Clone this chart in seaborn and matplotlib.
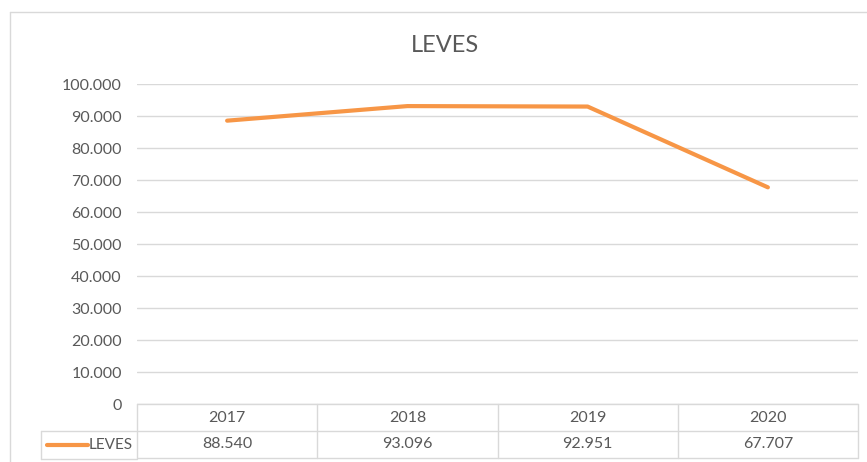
import matplotlib
matplotlib.use('Agg')
import matplotlib.pyplot as plt
import matplotlib.transforms as mtransforms
import seaborn as sns
import pandas as pd

# data
years = ['2017', '2018', '2019', '2020']
leves = [88540, 93096, 92951, 67707]
leves_labels = ['88.540', '93.096', '92.951', '67.707']
yticks = [0, 10000, 20000, 30000, 40000, 50000, 60000, 70000, 80000, 90000, 100000]
ytick_labels = ['0', '10.000', '20.000', '30.000', '40.000', '50.000',
                '60.000', '70.000', '80.000', '90.000', '100.000']

sns.set_style('white')
plt.rcParams['font.family'] = ['Lato', 'DejaVu Sans']

text_color = '#595959'
grid_color = '#d9d9d9'
line_color = '#f79646'

df = pd.DataFrame({'year': years, 'value': leves})

fig = plt.figure(figsize=(8.67, 4.62), dpi=100)
ax = fig.add_axes([137 / 867, 1 - 404 / 462, (858 - 137) / 867, (404 - 84) / 462])

sns.lineplot(data=df, x='year', y='value', ax=ax, color=line_color,
             linewidth=3, sort=False)

ax.set_xlim(-0.5, len(years) - 0.5)
ax.set_ylim(0, 100000)
ax.set_yticks(yticks)
ax.set_yticklabels(ytick_labels)
ax.tick_params(axis='y', length=0, pad=11, labelsize=11.5, labelcolor=text_color)
ax.set_xticks([])
ax.set_xlabel('')
ax.set_ylabel('')
ax.grid(axis='y', color=grid_color, linewidth=1)
ax.set_axisbelow(True)
for s in ax.spines.values():
    s.set_visible(False)

# data table under the plot
trans = mtransforms.blended_transform_factory(ax.transData, ax.transAxes)
row_h = 27 / (404 - 84)
x0, x1 = -0.5, len(years) - 0.5
for r in range(3):
    y = -r * row_h
    ax.plot([x0, x1], [y, y], transform=trans, color=grid_color, lw=1, clip_on=False)
for i in range(len(years) + 1):
    ax.plot([x0 + i, x0 + i], [0, -2 * row_h], transform=trans, color=grid_color,
            lw=1, clip_on=False)
for i, (yr, lab) in enumerate(zip(years, leves_labels)):
    ax.text(i, -0.5 * row_h, yr, transform=trans, ha='center', va='center',
            fontsize=11.5, color=text_color)
    ax.text(i, -1.5 * row_h, lab, transform=trans, ha='center', va='center',
            fontsize=11.5, color=text_color)

# legend cell at the left of the value row
fx0 = 41 / 867
fx1 = 137 / 867
ytop = 1 - 431 / 462
ybot = 1 - 459 / 462
ft = fig.transFigure
fig.add_artist(plt.Line2D([fx0, fx1], [ytop, ytop], transform=ft, color=grid_color, lw=1))
fig.add_artist(plt.Line2D([fx0, fx1], [ybot, ybot], transform=ft, color=grid_color, lw=1))
fig.add_artist(plt.Line2D([fx0, fx0], [ytop, ybot], transform=ft, color=grid_color, lw=1))
ymid = (ytop + ybot) / 2
fig.add_artist(plt.Line2D([47 / 867, 88 / 867], [ymid, ymid], transform=ft,
                          color=line_color, lw=3, solid_capstyle='round'))
fig.text(89 / 867, ymid, 'LEVES', ha='left', va='center', fontsize=11, color=text_color)

# outer chart border
fig.add_artist(plt.Line2D([10 / 867, 10 / 867], [1 - 12 / 462, 0], transform=ft,
                          color=grid_color, lw=1))
fig.add_artist(plt.Line2D([10 / 867, 1], [1 - 12 / 462, 1 - 12 / 462], transform=ft,
                          color=grid_color, lw=1))

fig.text(445 / 867, 1 - 45 / 462, 'LEVES', ha='center', va='center', fontsize=17,
         color=text_color)

fig.savefig('out.png', dpi=100)
